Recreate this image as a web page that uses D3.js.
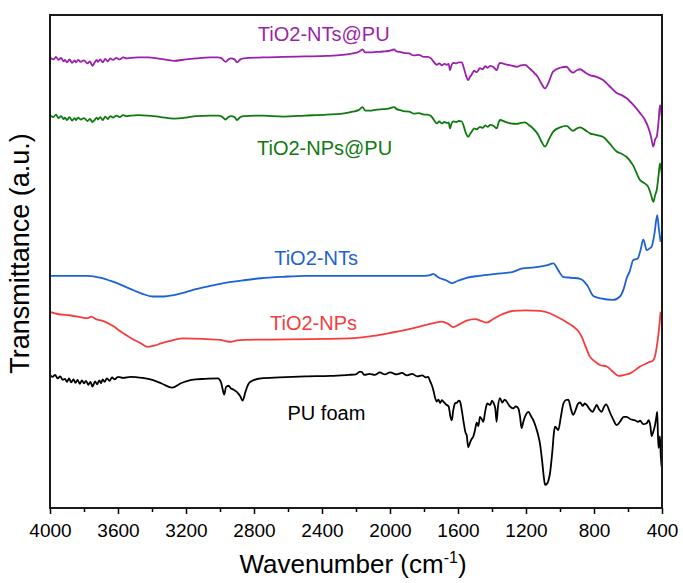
<!DOCTYPE html>
<html><head><meta charset="utf-8">
<script src="https://cdn.jsdelivr.net/npm/d3@7"></script>
<style>body{margin:0;background:#fff}svg{display:block}text{font-family:"Liberation Sans",Arial,sans-serif}</style>
</head><body><svg id="c" width="683" height="583"></svg>
<script>
// ---- data: [wavenumber (cm-1), transmittance (a.u., offset)] ----
const seriesNames = ["TiO2-NTs@PU","TiO2-NPs@PU","TiO2-NTs","TiO2-NPs","PU foam"];
const seriesColors = ["#9c1fae","#0f7a0f","#1c62d6","#f53d3d","#000000"];
const majorTicks = [4000,3600,3200,2800,2400,2000,1600,1200,800,400];
const minorTicks = [3800,3400,3000,2600,2200,1800,1400,1000,600];

const ntsPU = [[4000,91.4],[3980,91.0],[3965,91.5],[3950,90.9],[3935,91.3],[3920,90.6],[3912,90.9],[3900,90.4],[3885,91.0],[3870,90.3],[3855,90.8],[3847,90.4],[3835,90.9],[3820,90.5],[3800,90.8],[3780,90.2],[3765,90.6],[3751,89.7],[3740,90.2],[3725,90.9],[3718,90.5],[3705,91.0],[3690,90.4],[3675,91.1],[3660,90.6],[3645,91.2],[3629,90.9],[3610,91.3],[3590,91.0],[3570,91.4],[3550,91.2],[3525,91.3],[3480,91.4],[3424,91.4],[3350,91.1],[3271,90.7],[3200,91.0],[3141,91.2],[3060,91.4],[3013,91.4],[2990,91.2],[2967,90.5],[2950,91.0],[2935,91.2],[2915,91.0],[2900,90.4],[2880,91.0],[2859,91.2],[2750,91.4],[2629,91.5],[2500,91.6],[2372,91.7],[2280,91.9],[2219,92.2],[2185,92.5],[2162,93.0],[2145,92.4],[2118,92.4],[2080,92.5],[2041,92.6],[2010,92.7],[1976,93.0],[1960,92.6],[1941,92.5],[1920,92.3],[1888,92.2],[1860,91.8],[1830,91.9],[1800,91.5],[1780,91.5],[1759,91.2],[1745,90.6],[1735,90.2],[1725,89.9],[1710,90.2],[1695,89.8],[1680,90.1],[1665,89.9],[1655,90.1],[1647,88.8],[1640,89.6],[1629,90.3],[1610,90.2],[1595,90.4],[1578,90.4],[1565,89.2],[1552,87.6],[1540,86.8],[1530,87.4],[1520,87.9],[1505,88.7],[1490,88.4],[1471,89.2],[1455,89.0],[1440,89.6],[1425,89.3],[1410,89.7],[1390,89.4],[1372,88.8],[1360,90.0],[1353,90.3],[1320,90.0],[1290,89.8],[1255,89.5],[1230,89.8],[1206,89.9],[1180,89.2],[1159,88.5],[1130,87.4],[1110,86.1],[1088,85.1],[1065,86.5],[1041,88.5],[1000,89.3],[961,89.5],[940,88.7],[924,88.3],[900,88.8],[882,89.0],[850,88.3],[824,87.8],[790,87.5],[747,86.8],[710,85.6],[667,84.2],[640,83.8],[608,83.1],[570,81.8],[529,80.1],[500,78.7],[482,77.3],[465,75.4],[451,73.3],[440,74.8],[431,75.3],[420,78.5],[412,81.7],[405,80.5],[402,79.4]];

const npsPU = [[4000,79.7],[3980,79.3],[3965,79.8],[3950,79.1],[3935,79.5],[3920,78.9],[3912,79.2],[3900,78.7],[3885,79.3],[3870,78.6],[3855,79.1],[3847,78.7],[3835,79.2],[3820,78.8],[3800,79.1],[3780,78.5],[3765,78.9],[3751,78.3],[3740,78.6],[3725,79.2],[3718,78.8],[3705,79.3],[3690,78.7],[3675,79.4],[3660,78.9],[3645,79.5],[3629,79.2],[3610,79.6],[3590,79.3],[3570,79.7],[3550,79.5],[3525,79.6],[3480,79.7],[3424,79.6],[3350,79.3],[3271,79.0],[3200,79.2],[3141,79.5],[3060,79.6],[3013,79.6],[2990,79.4],[2967,78.8],[2950,79.3],[2935,79.5],[2915,79.3],[2900,78.7],[2880,79.3],[2859,79.5],[2750,79.6],[2629,79.4],[2500,79.6],[2372,79.8],[2280,80.0],[2219,80.4],[2185,80.7],[2162,81.3],[2145,80.6],[2118,80.6],[2080,80.8],[2041,80.9],[2010,81.0],[1976,81.3],[1960,80.9],[1941,80.7],[1920,80.5],[1888,80.4],[1860,80.0],[1830,80.1],[1800,79.8],[1780,79.8],[1759,79.5],[1745,78.9],[1735,78.4],[1725,78.0],[1710,78.4],[1695,78.0],[1680,78.3],[1665,78.1],[1655,78.2],[1647,77.0],[1640,77.8],[1629,78.4],[1610,78.3],[1595,78.5],[1578,78.4],[1565,77.3],[1552,75.9],[1540,75.3],[1530,75.8],[1520,76.3],[1505,77.0],[1490,76.8],[1471,77.3],[1455,77.1],[1440,77.6],[1425,77.3],[1410,77.7],[1390,77.5],[1372,77.0],[1360,78.3],[1353,78.7],[1320,78.3],[1290,78.0],[1255,77.9],[1230,78.1],[1206,78.2],[1180,77.6],[1159,77.0],[1130,75.8],[1110,74.4],[1088,73.3],[1065,74.8],[1041,76.3],[1000,77.2],[961,77.5],[940,76.9],[924,76.5],[900,77.0],[882,77.2],[850,76.6],[824,76.0],[790,75.7],[747,75.3],[710,74.0],[667,72.3],[640,71.9],[608,71.2],[570,69.5],[529,66.5],[500,65.8],[482,65.2],[465,63.6],[451,62.1],[440,63.5],[431,64.5],[420,67.5],[412,69.9],[405,68.8],[402,67.9]];

const nts = [[4000,47.1],[3900,47.1],[3782,47.1],[3700,46.7],[3629,45.9],[3525,44.4],[3460,43.5],[3398,42.9],[3330,42.9],[3271,43.2],[3200,43.8],[3141,44.4],[3050,45.1],[2962,45.7],[2860,46.2],[2759,46.6],[2630,46.9],[2500,47.1],[2250,47.1],[1988,47.1],[1800,47.1],[1759,47.3],[1745,47.5],[1725,47.0],[1706,46.6],[1670,46.2],[1637,45.6],[1600,46.1],[1549,46.7],[1476,47.1],[1380,47.5],[1276,47.9],[1220,48.6],[1150,48.8],[1080,49.2],[1039,49.6],[1010,48.2],[982,46.9],[930,46.7],[882,46.5],[840,45.2],[804,43.0],[760,42.5],[688,42.2],[647,42.9],[625,44.5],[608,46.6],[590,48.0],[569,50.3],[543,50.6],[525,52.5],[510,54.5],[490,52.3],[475,52.6],[461,53.0],[445,55.5],[428,59.4],[418,56.5],[408,54.0]];

const nps = [[4000,39.8],[3950,39.3],[3884,39.1],[3820,38.7],[3782,38.5],[3756,38.8],[3730,38.3],[3694,38.0],[3660,37.5],[3629,36.9],[3580,35.7],[3525,34.5],[3470,33.5],[3424,32.7],[3380,33.0],[3347,33.4],[3280,34.0],[3218,34.4],[3100,34.3],[3000,34.1],[2960,33.8],[2937,33.7],[2900,34.0],[2859,34.1],[2600,34.2],[2400,34.3],[2245,34.4],[2100,34.9],[1988,35.6],[1850,36.6],[1745,37.5],[1696,37.8],[1660,37.4],[1628,36.7],[1590,37.3],[1549,38.0],[1500,38.3],[1460,37.9],[1431,37.6],[1390,38.4],[1353,39.1],[1310,39.7],[1275,40.0],[1200,40.1],[1118,40.0],[1060,39.5],[1019,38.8],[970,37.9],[922,36.8],[895,36.0],[872,34.7],[850,32.8],[824,30.7],[790,29.6],[765,29.0],[725,28.7],[690,27.7],[657,26.8],[620,27.0],[588,27.3],[529,28.7],[480,29.5],[451,30.0],[440,31.0],[431,32.7],[420,35.5],[408,39.8]];

const puFoam = [[4000,27.0],[3985,26.6],[3970,27.0],[3955,26.3],[3940,26.7],[3925,26.0],[3912,26.2],[3900,25.6],[3888,26.3],[3875,25.5],[3862,26.1],[3850,25.4],[3838,26.0],[3825,25.2],[3812,25.9],[3800,25.3],[3788,25.8],[3775,25.0],[3762,25.6],[3750,24.6],[3744,25.0],[3735,25.7],[3722,25.1],[3710,25.9],[3700,25.3],[3690,26.1],[3679,25.6],[3665,26.3],[3650,25.8],[3635,26.5],[3620,26.1],[3600,26.6],[3570,26.4],[3525,26.6],[3460,26.4],[3398,26.0],[3340,25.2],[3282,24.4],[3230,25.3],[3167,26.0],[3090,26.2],[3013,26.3],[2995,25.6],[2985,24.2],[2975,23.0],[2965,24.5],[2950,24.8],[2937,24.3],[2920,24.0],[2900,23.5],[2880,22.6],[2867,21.8],[2850,23.6],[2835,25.0],[2821,25.6],[2759,26.3],[2650,26.5],[2500,26.7],[2350,26.8],[2245,27.0],[2200,27.1],[2180,27.6],[2168,27.6],[2150,27.0],[2120,27.2],[2090,27.0],[2060,27.5],[2030,27.1],[2000,27.5],[1988,27.4],[1960,27.1],[1930,27.4],[1900,26.9],[1870,27.2],[1840,26.7],[1810,26.9],[1790,26.5],[1775,26.6],[1765,25.8],[1755,25.0],[1745,23.9],[1735,22.4],[1725,21.6],[1715,22.0],[1705,21.3],[1695,21.9],[1686,21.6],[1670,21.0],[1655,20.6],[1645,18.6],[1637,17.8],[1628,19.8],[1618,21.2],[1605,21.4],[1595,21.8],[1588,21.6],[1578,19.9],[1565,17.0],[1555,15.2],[1549,14.8],[1540,12.3],[1530,13.2],[1520,14.0],[1510,14.5],[1500,15.8],[1490,17.3],[1480,16.6],[1471,18.5],[1460,18.0],[1451,17.5],[1440,19.6],[1428,21.2],[1410,20.9],[1400,21.8],[1392,21.4],[1380,20.0],[1373,17.5],[1365,20.5],[1353,22.3],[1340,21.4],[1325,22.0],[1314,21.6],[1295,20.6],[1275,20.2],[1260,20.6],[1245,20.2],[1235,18.5],[1226,16.2],[1215,17.6],[1200,19.0],[1186,19.5],[1170,18.6],[1157,17.8],[1140,16.2],[1130,15.0],[1118,13.1],[1105,9.5],[1095,6.2],[1088,4.7],[1075,5.0],[1068,5.6],[1059,7.0],[1045,11.5],[1035,15.5],[1029,16.5],[1020,16.2],[1010,15.8],[995,18.5],[980,21.2],[965,21.9],[951,22.0],[935,20.0],[922,18.9],[905,20.2],[895,21.1],[882,21.4],[865,20.7],[855,21.2],[843,20.9],[825,20.0],[808,19.5],[795,20.3],[784,20.9],[770,20.0],[755,19.5],[740,20.6],[729,21.0],[705,19.3],[685,17.8],[667,16.8],[645,17.6],[625,18.5],[608,18.5],[585,18.0],[560,17.8],[540,17.5],[529,17.7],[510,17.0],[490,17.2],[478,17.8],[468,16.5],[461,14.6],[450,15.6],[441,16.8],[433,18.5],[428,19.5],[424,15.0],[420,12.2],[416,13.8],[412,14.5],[407,10.5],[402,8.4]];

const seriesData = [ntsPU, npsPU, nts, nps, puFoam];
const labelPos = [[2390,94.7],[2385,71.6],[2435,49.3],[2450,36.1],[2374,17.8]]; // label anchor [wavenumber, value]

// ---- drawing ----
const W = 683, H = 583;
const m = {l:50, r:21, t:15, b:75};
const svg = d3.select("#c");
const x = d3.scaleLinear().domain([4000,400]).range([m.l, W-m.r]);
const y = d3.scaleLinear().domain([0,100]).range([H-m.b, m.t]);

const line = d3.line().x(d=>x(d[0])).y(d=>y(d[1])).curve(d3.curveMonotoneX);

seriesData.forEach((s,i)=>{
  svg.append("path").datum(s).attr("d", line)
    .attr("fill","none").attr("stroke", seriesColors[i])
    .attr("stroke-width",1.8).attr("stroke-linejoin","round");
});

seriesNames.forEach((n,i)=>{
  svg.append("text").attr("x", x(labelPos[i][0])).attr("y", y(labelPos[i][1]))
    .attr("text-anchor","middle").attr("font-size",20).attr("fill", seriesColors[i]).text(n);
});

// axis
const ax = svg.append("g").attr("transform",`translate(0,${H-m.b})`)
  .call(d3.axisBottom(x).tickValues(majorTicks).tickSize(6).tickPadding(10).tickFormat(d3.format("d")));
ax.select(".domain").remove();
ax.selectAll("line").attr("stroke","#000").attr("stroke-width",1.5);
ax.selectAll("text").attr("font-size",19).attr("fill","#000").style("font-family",'"Liberation Sans",Arial,sans-serif');
const axm = svg.append("g").attr("transform",`translate(0,${H-m.b})`)
  .call(d3.axisBottom(x).tickValues(minorTicks).tickSize(4).tickFormat(""));
axm.select(".domain").remove();
axm.selectAll("line").attr("stroke","#000").attr("stroke-width",1.5);

// frame
svg.append("rect").attr("x",m.l).attr("y",m.t).attr("width",W-m.l-m.r).attr("height",H-m.t-m.b)
  .attr("fill","none").attr("stroke","#1a1a1a").attr("stroke-width",2);

// titles
svg.append("text").attr("x", 353).attr("y", 573)
  .attr("text-anchor","middle").attr("font-size",26).attr("fill","#000")
  .html('Wavenumber (cm<tspan dy="-10" font-size="16">-1</tspan><tspan dy="10">)</tspan>');
svg.append("text").attr("transform",`translate(29,${(m.t+H-m.b)/2 - 8}) rotate(-90)`)
  .attr("text-anchor","middle").attr("font-size",27).attr("fill","#000").text("Transmittance (a.u.)");
</script></body></html>
